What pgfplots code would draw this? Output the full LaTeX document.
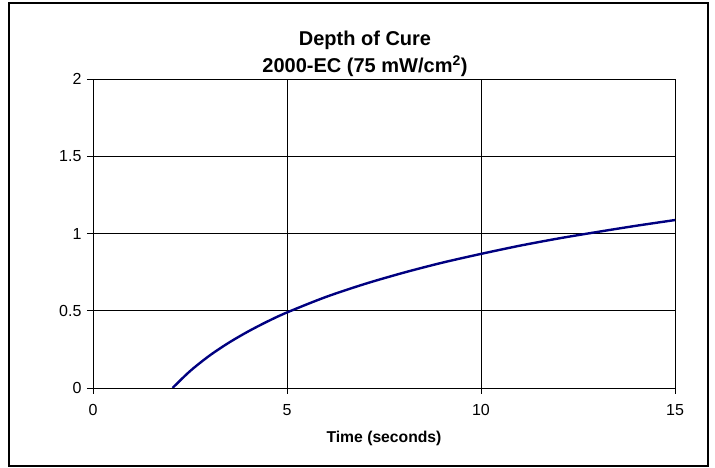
\documentclass[border=0pt]{standalone}
\usepackage{fontspec}
\setmainfont{Liberation Sans}
\usepackage{pgfplots}
\pgfplotsset{compat=1.18}
\definecolor{curve}{RGB}{0,0,128}

\begin{document}
\begin{tikzpicture}[x=1pt,y=1pt]
\path[use as bounding box] (-93,-80) rectangle (622,388);
\draw[line width=1.8pt] (-84,-78) rectangle (615,385);

\node[font=\fontsize{20}{24}\selectfont\bfseries, anchor=base] at (272,342) {Depth of Cure};
\node[font=\fontsize{20}{24}\selectfont\bfseries, anchor=base] at (272,315) {2000-EC (75 mW/cm\textsuperscript{2})};

\begin{axis}[%
at={(0pt,0pt)},
anchor=south west,
width=582pt,
height=309pt,
scale only axis,
xmin=0, xmax=15,
ymin=0, ymax=2,
xtick={0,5,10,15},
ytick={0,0.5,1,1.5,2},
tick pos=left,
tick align=outside,
major tick length=6pt,
tick style={black, line width=0.6pt},
axis line style={black, line width=0.6pt},
grid=major,
major grid style={black, line width=0.5pt},
/pgf/number format/assume math mode=true,
ticklabel style={font=\fontsize{16}{18}\selectfont},
x tick label style={anchor=center, yshift=-16pt},
y tick label style={anchor=east, xshift=-2pt},
xlabel={Time (seconds)},
xlabel style={font=\fontsize{15.7}{18}\selectfont\bfseries, at={(axis description cs:0.5,0)}, anchor=center, yshift=-50pt},
]
\addplot[color=curve, line width=2.4pt, smooth] coordinates {
(2.05,0) (2.5,0.109) (3,0.209) (3.5,0.293) (4,0.366) (4.5,0.431)
(5,0.489) (6,0.589) (7,0.673) (8,0.746) (9,0.811) (10,0.868)
(11,0.921) (12,0.968) (13,1.010) (14,1.050) (15,1.087)
};
\end{axis}
\end{tikzpicture}
\end{document}
